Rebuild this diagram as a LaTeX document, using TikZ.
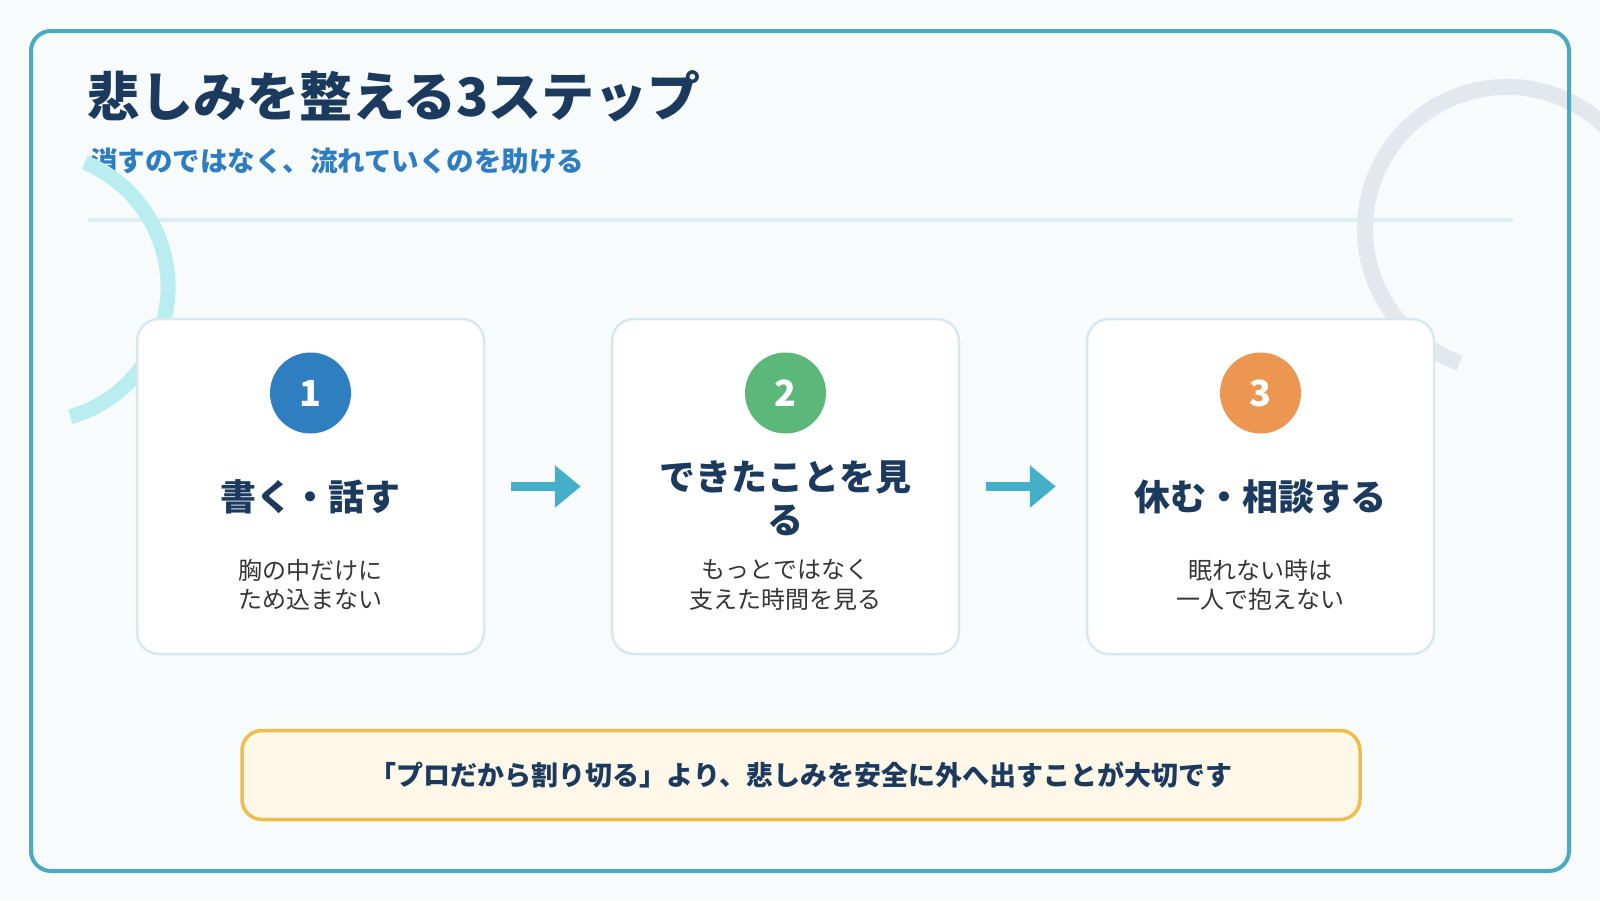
\documentclass[tikz,border=0pt]{standalone}
\usepackage{fontspec}
\setmainfont{Noto Sans CJK JP}
\IfFontExistsTF{Noto Sans CJK JP Black}{\newfontfamily\heavyfont{Noto Sans CJK JP Black}}{\newcommand\heavyfont{\bfseries}}
\usetikzlibrary{arrows.meta}
\definecolor{bgcol}{HTML}{F8FBFB}
\definecolor{navy}{HTML}{1C3A5E}
\definecolor{subblue}{HTML}{2E7DC0}
\definecolor{framecol}{HTML}{4AAAC4}
\definecolor{cyanarc}{HTML}{B9EDF0}
\definecolor{grayarc}{HTML}{E3E8EF}
\definecolor{sepcol}{HTML}{DDEDF2}
\definecolor{cardline}{HTML}{D8E8EF}
\definecolor{arrowcol}{HTML}{45AFC8}
\definecolor{noteline}{HTML}{EEBE4C}
\definecolor{notefill}{HTML}{FFF8E8}
\definecolor{desccol}{HTML}{363636}
\definecolor{oneblue}{HTML}{2E7EC0}
\definecolor{twogreen}{HTML}{5BB87A}
\definecolor{threeorange}{HTML}{EB9752}
\begin{document}
\begin{tikzpicture}[x=1pt,y=-1pt,
  card/.style={draw=cardline,line width=2.5pt,fill=white,rounded corners=22pt,
    minimum width=347pt,minimum height=335pt,inner sep=0pt},
  badge/.style={circle,minimum size=81pt,inner sep=0pt,text=white,
    font=\fontsize{36}{36}\selectfont\heavyfont},
  steptitle/.style={text=navy,align=center,inner sep=0pt,
    font=\fontsize{36}{43}\selectfont\bfseries},
  desc/.style={text=desccol,align=center,inner sep=0pt,
    font=\fontsize{24}{29.5}\selectfont},
  flow/.style={draw=arrowcol,line width=9pt,-{Triangle[length=26pt,width=41pt]}},
  note/.style={draw=noteline,line width=3.5pt,fill=notefill,rounded corners=20pt,
    minimum width=1118pt,minimum height=89pt,inner sep=0pt,text=navy,
    font=\fontsize{27}{27}\selectfont\bfseries}]
\useasboundingbox (0,0) rectangle (1600,900);
\clip (0,0) rectangle (1600,900);
\fill[bgcol] (0,0) rectangle (1600,900);
% title and subtitle
\node[anchor=west,inner sep=0pt,text=navy,font=\fontsize{53}{53}\selectfont\heavyfont] (title) at (87,96) {悲しみを整える3ステップ};
\node[anchor=west,inner sep=0pt,text=subblue,font=\fontsize{27.5}{28}\selectfont\bfseries] (subtitle) at (90,161) {消すのではなく、流れていくのを助ける};
% separator
\draw[sepcol,line width=4pt] (88,220) -- (1513,220);
% decorative arcs
\draw[cyanarc,line width=15pt] (33,287) ++(-74:135pt) arc[start angle=-74,end angle=67.4,radius=135pt];
\draw[grayarc,line width=16pt] (1507,229) ++(250.5:142pt) arc[start angle=250.5,end angle=20,radius=142pt];
% frame
\draw[framecol,line width=4pt,rounded corners=20pt] (31,31) rectangle (1569,871);
% cards
\node[card] (c1) at (310.5,486.5) {};
\node[card] (c2) at (785.5,486.5) {};
\node[card] (c3) at (1260.5,486.5) {};
\node[badge,fill=oneblue] (b1) at (310.5,393) {1};
\node[badge,fill=twogreen] (b2) at (785.5,393) {2};
\node[badge,fill=threeorange] (b3) at (1260.5,393) {3};
\node[steptitle] (t1) at (310.5,497) {書く・話す};
\node[steptitle] (t2) at (785.5,498.5) {できたことを見\\る};
\node[steptitle] (t3) at (1260.5,497) {休む・相談する};
\node[desc] (d1) at (310.5,585) {胸の中だけに\\ため込まない};
\node[desc] (d2) at (785.5,585) {もっとではなく\\支えた時間を見る};
\node[desc] (d3) at (1260.5,585) {眠れない時は\\一人で抱えない};
% arrows
\draw[flow] ([xshift=26pt]c1.east) -- ([xshift=-30pt]c2.west);
\draw[flow] ([xshift=26pt]c2.east) -- ([xshift=-30pt]c3.west);
% note
\node[note] (note) at (801,775) {「プロだから割り切る」より、悲しみを安全に外へ出すことが大切です};
\end{tikzpicture}
\end{document}
